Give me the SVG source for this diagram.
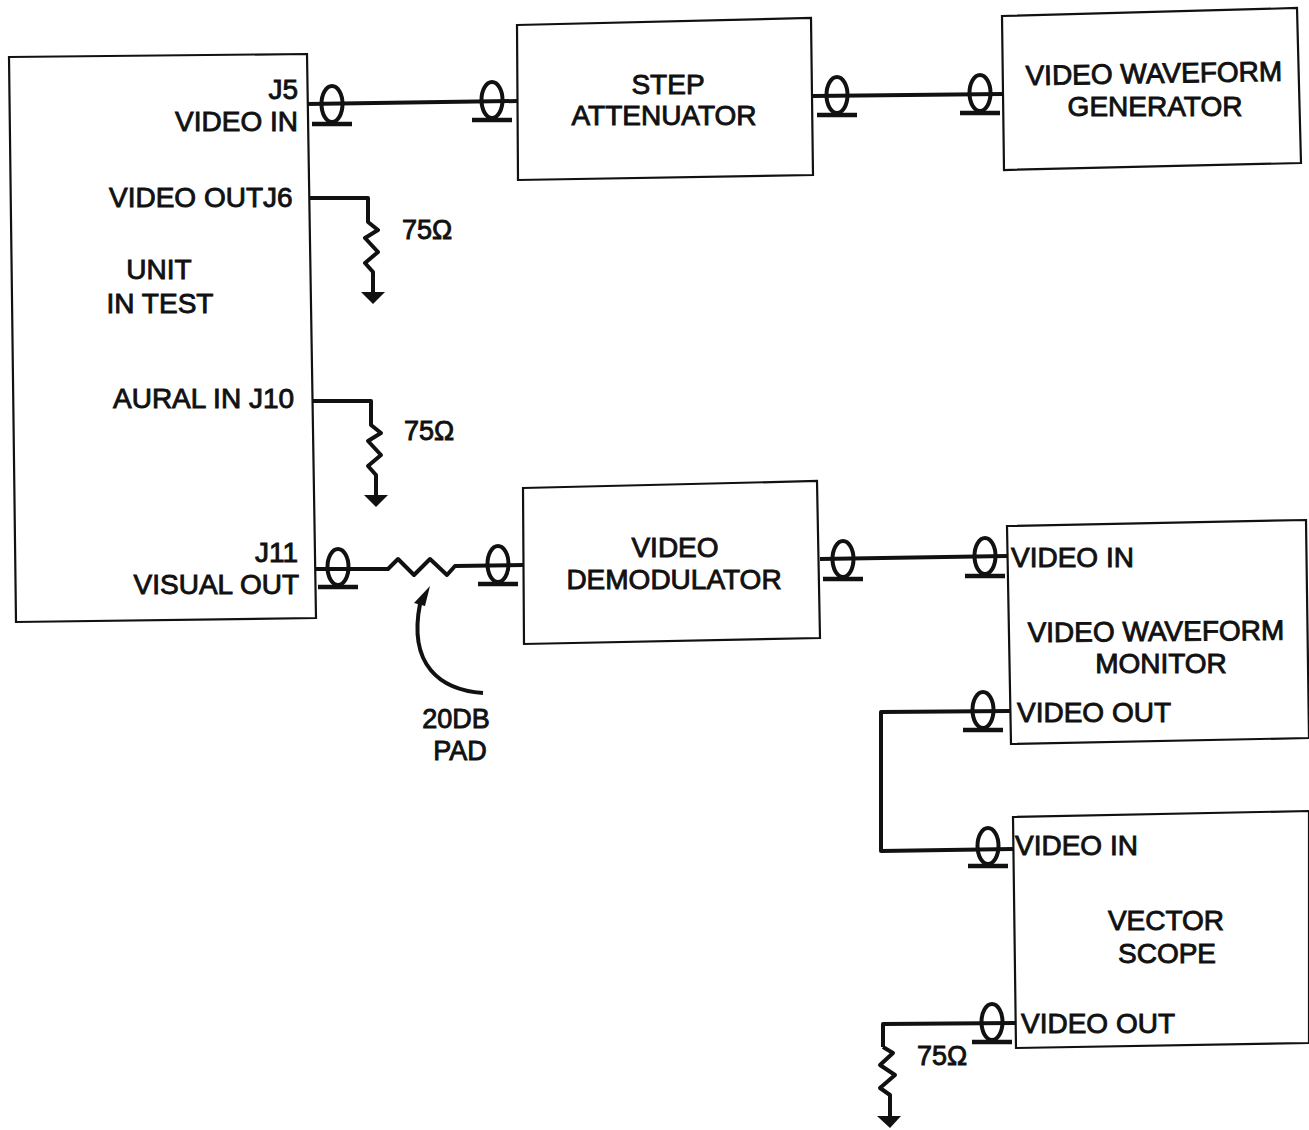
<svg xmlns="http://www.w3.org/2000/svg" xmlns:xlink="http://www.w3.org/1999/xlink" width="1309" height="1130" viewBox="0 0 1309 1130">
<style>
.box{fill:#fff;stroke:#111;stroke-width:2.2}
.wire{fill:none;stroke:#111;stroke-width:4;stroke-linejoin:round}
.thin{fill:none;stroke:#111;stroke-width:4;stroke-linejoin:round}
text{font-family:"Liberation Sans",Arial,sans-serif;font-size:28px;fill:#111;stroke:#111;stroke-width:.9}
.m{text-anchor:middle}.e{text-anchor:end}
.s{font-size:27px}
</style>
<defs>
<g id="bnc"><ellipse cx="0" cy="0" rx="10.5" ry="18" fill="none" stroke="#111" stroke-width="4"/><path d="M-20 20H20" stroke="#111" stroke-width="4.5"/></g>
<g id="term"><path class="thin" d="M0 0V24L10 32L-3 40L10 54L-3 65L5 74V95"/><path d="M-7 94H17L5 106Z" fill="#111"/></g>
</defs>
<rect width="1309" height="1130" fill="#fff"/>
<g id="unit-in-test"><polygon class="box" points="9,57 307,54 316,618 16,622"/>
<text class="e" x="298" y="99">J5</text><text class="e" x="298" y="131">VIDEO IN</text><text x="109" y="207">VIDEO OUTJ6</text><text class="m" x="159" y="279">UNIT</text><text class="m" x="160" y="313">IN TEST</text><text x="113" y="408">AURAL IN J10</text><text class="e" x="298" y="562">J11</text><text class="e" x="299" y="594">VISUAL OUT</text></g>
<g id="step-attenuator"><polygon class="box" points="517,25 811,18 813,175 518,180"/><text class="m" x="668" y="94">STEP</text><text class="m" x="664" y="125">ATTENUATOR</text></g>
<g id="video-waveform-generator"><polygon class="box" points="1002,16 1297,8 1301,163 1004,170"/><text class="m" x="1154" y="83" transform="rotate(-1 1154 83)">VIDEO WAVEFORM</text><text class="m" x="1155" y="116">GENERATOR</text></g>
<g id="video-demodulator"><polygon class="box" points="523,488 817,481 820,638 524,644"/><text class="m" x="675" y="557">VIDEO</text><text class="m" x="674" y="589">DEMODULATOR</text></g>
<g id="video-waveform-monitor"><polygon class="box" points="1007,526 1306,520 1309,738 1011,744"/><text x="1011" y="567">VIDEO IN</text><text class="m" x="1156" y="641" transform="rotate(-0.5 1156 641)">VIDEO WAVEFORM</text><text class="m" x="1161" y="673">MONITOR</text><text x="1017" y="722">VIDEO OUT</text></g>
<g id="vector-scope"><polygon class="box" points="1013,817 1309,811 1309,1043 1016,1048"/><text x="1015" y="855">VIDEO IN</text><text class="m" x="1166" y="930">VECTOR</text><text class="m" x="1167" y="963">SCOPE</text><text x="1021" y="1033">VIDEO OUT</text></g>
<g id="connectors">
<path class="wire" d="M307 104L517 101M813 96L1002 94M820 559L1007 556"/>
<path class="wire" d="M316 569L388 569L398 559L414 575L430 559L447 575L455 566L523 565"/>
<path class="wire" d="M1010 711L881 712V851L1013 849"/>
<path class="wire" d="M1015 1023L883 1024V1047"/>
<path class="wire" d="M309 198H368V222"/>
<path class="wire" d="M312 401H371V425"/>
<use xlink:href="#term" href="#term" x="368" y="198"/>
<use xlink:href="#term" href="#term" x="371" y="401"/>
<path class="thin" d="M883 1047L893 1053L880 1065L895 1075L880 1088L890 1095V1117"/>
<path d="M877 1116H901L890 1128Z" fill="#111"/>
<path class="thin" d="M483 693C440 690 408 665 420 604"/>
<path d="M430 586L414 603L425 606Z" fill="#111"/>
<use xlink:href="#bnc" href="#bnc" x="332" y="104"/>
<use xlink:href="#bnc" href="#bnc" x="492" y="100"/>
<use xlink:href="#bnc" href="#bnc" x="837" y="95"/>
<use xlink:href="#bnc" href="#bnc" x="980" y="93"/>
<use xlink:href="#bnc" href="#bnc" x="338" y="567"/>
<use xlink:href="#bnc" href="#bnc" x="498" y="564"/>
<use xlink:href="#bnc" href="#bnc" x="843" y="559"/>
<use xlink:href="#bnc" href="#bnc" x="985" y="556"/>
<use xlink:href="#bnc" href="#bnc" x="983" y="710"/>
<use xlink:href="#bnc" href="#bnc" x="988" y="846"/>
<use xlink:href="#bnc" href="#bnc" x="992" y="1022"/>
</g>
<g id="labels">
<text class="s" x="402" y="239">75Ω</text>
<text class="s" x="404" y="440">75Ω</text>
<text class="s" x="917" y="1065">75Ω</text>
<text class="m s" x="456" y="728">20DB</text>
<text class="m s" x="460" y="760">PAD</text>
</g>
</svg>
